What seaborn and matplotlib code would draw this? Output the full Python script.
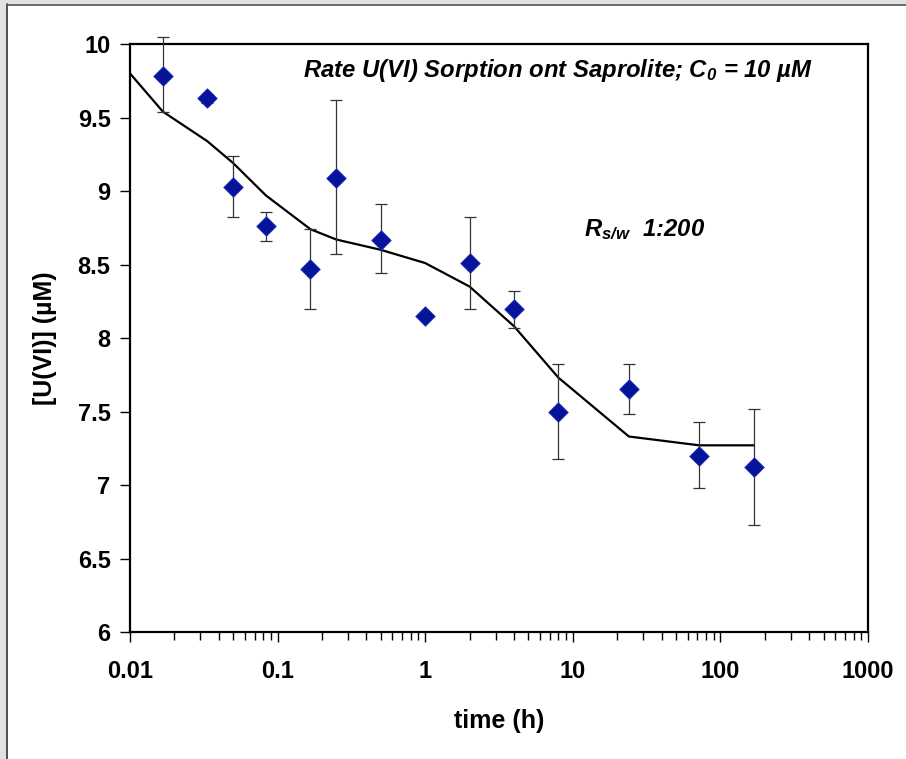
import numpy as np
import pandas as pd
import matplotlib
matplotlib.use("Agg")
import matplotlib.pyplot as plt
import seaborn as sns
from matplotlib.patches import Rectangle
from matplotlib.lines import Line2D

# measured data (time in h, [U(VI)] in uM)
time_h = [0.0167, 0.0333, 0.05, 0.0833, 0.167, 0.25, 0.5, 1, 2, 4, 8, 24, 72, 168]
conc = [9.78, 9.63, 9.03, 8.76, 8.47, 9.09, 8.67, 8.15, 8.51, 8.20, 7.50, 7.65, 7.20, 7.12]
err_up = [0.27, 0.03, 0.21, 0.10, 0.27, 0.53, 0.24, 0.0, 0.31, 0.12, 0.32, 0.17, 0.23, 0.40]
err_down = [0.24, 0.03, 0.21, 0.10, 0.27, 0.52, 0.23, 0.0, 0.31, 0.13, 0.32, 0.17, 0.22, 0.39]

# model curve
model_t = [0.01, 0.0167, 0.0333, 0.05, 0.0833, 0.167, 0.25, 0.5, 1, 2, 4, 8, 24, 72, 168]
model_c = [9.80, 9.54, 9.34, 9.19, 8.97, 8.74, 8.67, 8.60, 8.51, 8.35, 8.08, 7.73, 7.33, 7.27, 7.27]

sns.set_style("ticks")
plt.rcParams['font.family'] = ['Liberation Sans', 'DejaVu Sans']
plt.rcParams['text.color'] = 'black'
plt.rcParams['axes.labelcolor'] = 'black'
# mathtext only used for the italic subscripts
plt.rcParams['mathtext.fontset'] = 'custom'
plt.rcParams['mathtext.it'] = 'Liberation Sans:italic:bold'
plt.rcParams['mathtext.rm'] = 'Liberation Sans:italic:bold'

fig = plt.figure(figsize=(9.06, 7.59), dpi=100)
ax = fig.add_axes([0.1435, 0.1673, 0.8145, 0.7747])

# screenshot-like border on left and top
fig.patches.append(Rectangle((0, 0), 6 / 906, 1, transform=fig.transFigure,
                             color='#e2e2e2', zorder=0))
fig.patches.append(Rectangle((0, 1 - 4 / 759), 1, 4 / 759, transform=fig.transFigure,
                             color='#e2e2e2', zorder=0))
fig.lines.append(Line2D([7 / 906, 7 / 906], [0, 1 - 4 / 759], transform=fig.transFigure,
                        color='#333333', lw=1.2))
fig.lines.append(Line2D([7 / 906, 1], [1 - 4.5 / 759, 1 - 4.5 / 759], transform=fig.transFigure,
                        color='#555555', lw=1.2))

df_model = pd.DataFrame({'t': model_t, 'c': model_c})
sns.lineplot(data=df_model, x='t', y='c', ax=ax, color='black', lw=1.6, zorder=2)

eb = ax.errorbar(time_h, conc, yerr=[err_down, err_up], fmt='none', ecolor='#333333',
                 elinewidth=0.9, capsize=4, capthick=0.9, zorder=3)
for art in eb.lines[1] + eb.lines[2]:
    art.set_clip_on(False)

df_data = pd.DataFrame({'t': time_h, 'c': conc})
sns.scatterplot(data=df_data, x='t', y='c', ax=ax, marker='D', s=100, color='#06149a',
                edgecolor='#2233bb', linewidth=0.5, zorder=4)

ax.set_xscale('log')
ax.set_xlim(0.01, 1000)
ax.set_ylim(6, 10)
ax.set_yticks(np.arange(6, 10.01, 0.5))
ax.set_yticklabels(['6', '6.5', '7', '7.5', '8', '8.5', '9', '9.5', '10'])
ax.set_xticks([0.01, 0.1, 1, 10, 100, 1000])
ax.set_xticklabels(['0.01', '0.1', '1', '10', '100', '1000'])

for s in ax.spines.values():
    s.set_linewidth(1.6)
    s.set_color('black')

ax.tick_params(axis='both', which='major', direction='out', length=7, width=1,
               labelsize=17, colors='black')
ax.tick_params(axis='x', which='major', pad=13)
ax.tick_params(axis='y', which='major', pad=7)
ax.tick_params(axis='x', which='minor', direction='out', length=6, width=1, colors='black')
ax.tick_params(axis='y', which='minor', left=False)
for lab in ax.get_xticklabels() + ax.get_yticklabels():
    lab.set_fontweight('bold')

ax.set_xlabel('time (h)', fontsize=18, fontweight='bold', labelpad=19)
ax.set_ylabel('[U(VI)] (µM)', fontsize=18, fontweight='bold', labelpad=15)

ax.text(0.235, 0.955, r'Rate U(VI) Sorption ont Saprolite; C$_{0}$ = 10 µM',
        transform=ax.transAxes, fontsize=17.2, fontstyle='italic', fontweight='bold',
        ha='left', va='center')
ax.text(0.615, 0.685, r'R$_{s/w}$  1:200', transform=ax.transAxes,
        fontsize=17.2, fontstyle='italic', fontweight='bold', ha='left', va='center')

fig.savefig('out.png', dpi=100, facecolor='white')
